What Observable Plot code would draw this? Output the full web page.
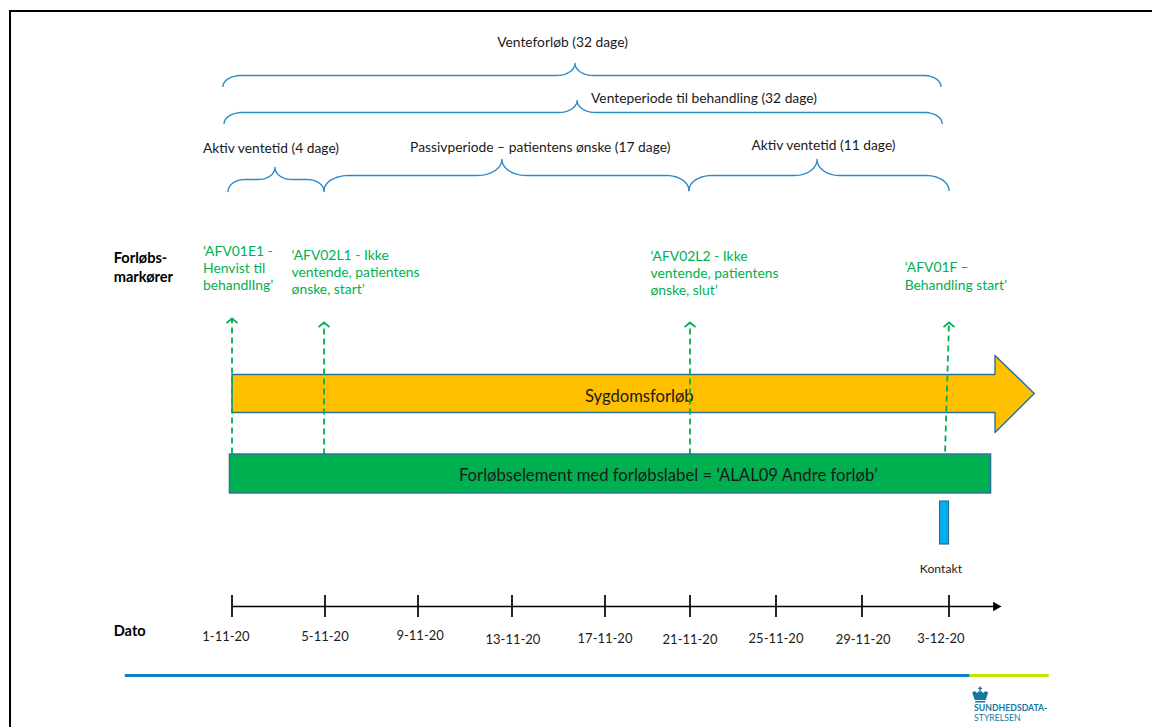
<!DOCTYPE html>
<html lang="da"><head><meta charset="utf-8">
<script src="https://cdn.jsdelivr.net/npm/d3@7"></script>
<script src="https://cdn.jsdelivr.net/npm/@observablehq/plot@0.6"></script>
<style>
html,body{margin:0;padding:0;background:#fff;overflow:hidden;width:1152px;height:727px}
#chart{position:absolute;left:0;top:0}
#frame{position:absolute;left:9px;top:10px;right:0;bottom:0;border-left:2px solid #000;border-top:2px solid #000;pointer-events:none}
</style></head><body>
<div id="chart"></div><div id="frame"></div>
<script>
// Time: days since 1-11-20
const tickDays = [0,4,8,12,16,20,24,28,32];
const tickLabels = ["1-11-20","5-11-20","9-11-20","13-11-20","17-11-20","21-11-20","25-11-20","29-11-20","3-12-20"];
const tickLabelDays = [-0.26,4,8.09,12.04,16,20,24,28.05,31.63];
const tickLabelY = [636,636,635,639,638,639,638,639,638];

const braceStart = [-0.39,-0.34,-0.17,3.96,19.95];
const braceMid   = [14.71,14.80,1.85,11.57,25.91];
const braceEnd   = [31.63,31.68,3.96,19.95,32];
const braceTip   = [63,100,167,159,159];
const braceLine  = [75,112,179,175,175];
const braceFoot  = [86,123,191,190,190];
const braceR     = [0.8,0.8,0.72,1.05,1.05];

const periodLabels = ["Venteforløb (32 dage)","Venteperiode til behandling (32 dage)","Aktiv ventetid (4 dage)","Passivperiode – patientens ønske (17 dage)","Aktiv ventetid (11 dage)"];
const periodLabelDays = [11.37,15.40,-1.25,7.66,22.86];
const periodLabelY = [42,98,148,147,145];

const markerLabels = ["‘AFV01E1 -\nHenvist til\nbehandlIng’","‘AFV02L1 - Ikke\nventende, patientens\nønske, start’","‘AFV02L2 - Ikke\nventende, patientens\nønske, slut’","‘AFV01F –\nBehandling start’"];
const markerLabelDays = [-1.25,2.56,18.14,29.96];
const markerLabelY = [267,271,272,275];
const markerTopDay = [0,3.96,20,32];
const markerBottomDay = [0,3.96,20,31.82];
const markerTopY = [318,322,322,322];
const markerBottomY = [453,454,454,451];

const courseDays = [0,34.11,34.11,35.91,34.11,34.11,0,0];
const courseY    = [374,374,355,393,432,412,412,374];
const elementDays = [-0.09,33.93];
const elementY = [454,493];
const contactDays = [31.59,32];
const contactY = [501,544];

const scaleDomain = [-9.98,...tickDays,41.33];
const scaleRange  = [0,231.5,324.5,417.5,511.5,604.5,689.5,775.5,861.5,948.5,1152];

const font = "Lato";
const ink = "#1a1a1a", blue = "#2a8bc9", green = "#00b050", edge = "#2a6f9f", teal = "#17789f";

function bracePoints(i){
  const x0=braceStart[i],xm=braceMid[i],x1=braceEnd[i],yt=braceTip[i],yl=braceLine[i],yf=braceFoot[i],r=braceR[i];
  const pts=[]; const n=14;
  const arc=(cx,cy,rx,ry,a0,a1)=>{for(let k=0;k<=n;k++){const a=a0+(a1-a0)*k/n;pts.push({x:cx+rx*Math.cos(a),y:cy+ry*Math.sin(a),b:i});}};
  const P=Math.PI;
  arc(x0+r,yf,r,yf-yl,P,1.5*P);
  arc(xm-r,yt,r,yl-yt,0.5*P,0);
  arc(xm+r,yt,r,yl-yt,P,0.5*P);
  arc(x1-r,yf,r,yf-yl,1.5*P,2*P);
  return pts;
}
const braces = braceStart.flatMap((_,i)=>bracePoints(i));
const chevron = {draw(c,s){const r=Math.sqrt(s/Math.PI);c.moveTo(-r,r*0.85);c.lineTo(0,0);c.lineTo(r,r*0.85);}};
const crown = {draw(c,s){const r=Math.sqrt(s/Math.PI);const u=r/8;
  const P=(a,b)=>[a*u,b*u];
  const poly=p=>{c.moveTo(...P(...p[0]));p.slice(1).forEach(q=>c.lineTo(...P(...q)));c.closePath();};
  poly([[-5,8],[5,8],[5,6.5],[-5,6.5]]);
  poly([[-5.5,5.5],[5.5,5.5],[8,-2],[5.5,-3.5],[3,-1.5],[1.2,-3.5],[0,-2.8],[-1.2,-3.5],[-3,-1.5],[-5.5,-3.5],[-8,-2]]);
  poly([[-0.7,-3.5],[0.7,-3.5],[0.7,-5.5],[2,-5.5],[2,-6.8],[0.7,-6.8],[0.7,-8],[-0.7,-8],[-0.7,-6.8],[-2,-6.8],[-2,-5.5],[-0.7,-5.5]]);
}};

const idx = a => a.map((_,i)=>i);
const chart = Plot.plot({
  width:1152,height:727,margin:0,
  style:{background:"transparent",fontFamily:font},
  x:{type:"linear",domain:scaleDomain,range:scaleRange,axis:null},
  y:{type:"linear",domain:[0,727],range:[0,727],axis:null},
  marks:[
    // braces
    Plot.line(braces,{x:"x",y:"y",z:"b",stroke:blue,strokeWidth:1.4,curve:"linear"}),
    Plot.text(idx(periodLabels),{x:i=>periodLabelDays[i],y:i=>periodLabelY[i],text:i=>periodLabels[i],textAnchor:"start",fontSize:13.8,fill:ink,fontFamily:font}),
    // course arrow
    Plot.line(idx(courseDays),{x:i=>courseDays[i],y:i=>courseY[i],fill:"#ffc000",stroke:edge,strokeWidth:1.4,curve:"linear"}),
    Plot.text(["Sygdomsforløb"],{x:[15.14],y:[396],text:d=>d,textAnchor:"start",fontSize:16.6,fill:ink,fontFamily:font}),
    // dashed markers
    Plot.link(idx(markerTopDay),{x1:i=>markerBottomDay[i],y1:i=>markerBottomY[i],x2:i=>markerTopDay[i],y2:i=>markerTopY[i],stroke:green,strokeWidth:1.8,strokeDasharray:"6 4"}),
    Plot.dot(idx(markerTopDay),{x:i=>markerTopDay[i],y:i=>markerTopY[i],symbol:chevron,r:5.5,fill:"none",stroke:green,strokeWidth:1.8}),
    Plot.text(idx(markerLabels),{x:i=>markerLabelDays[i],y:i=>markerLabelY[i],text:i=>markerLabels[i],textAnchor:"start",lineHeight:1.25,fontSize:13.9,fill:green,fontFamily:font}),
    // element
    Plot.rect([0],{x1:[elementDays[0]],x2:[elementDays[1]],y1:[elementY[0]],y2:[elementY[1]],fill:green,stroke:edge,strokeWidth:1.4}),
    Plot.text(["Forløbselement med forløbslabel = ‘ALAL09 Andre forløb’"],{x:[9.74],y:[475],text:d=>d,textAnchor:"start",fontSize:16.7,fill:ink,fontFamily:font}),
    // contact
    Plot.rect([0],{x1:[contactDays[0]],x2:[contactDays[1]],y1:[contactY[0]],y2:[contactY[1]],fill:"#00b0f0",stroke:edge,strokeWidth:1.2}),
    Plot.text(["Kontakt"],{x:[31.63],y:[569],text:d=>d,textAnchor:"middle",fontSize:12.2,fill:ink,fontFamily:font}),
    // date axis
    Plot.ruleY([606],{x1:0,x2:34.1,stroke:"#000",strokeWidth:1.7}),
    Plot.ruleX(tickDays,{y1:595,y2:617,stroke:"#000",strokeWidth:1.7}),
    Plot.dot([34.15],{x:d=>d,y:[606],symbol:"triangle",rotate:90,r:3.6,fill:"#000",stroke:"none"}),
    Plot.text(idx(tickLabels),{x:i=>tickLabelDays[i],y:i=>tickLabelY[i],text:i=>tickLabels[i],textAnchor:"middle",fontSize:13,fill:ink,fontFamily:font}),
    // left headers
    Plot.text(["Forløbs-\nmarkører"],{x:[-5.1],y:[266],text:d=>d,textAnchor:"start",lineHeight:1.3,fontSize:14.6,fontWeight:"bold",fill:"#000",fontFamily:font}),
    Plot.text(["Dato"],{x:[-5.1],y:[631],text:d=>d,textAnchor:"start",fontSize:14.6,fontWeight:"bold",fill:"#000",fontFamily:font}),
    // footer
    Plot.ruleY([675],{x1:-4.6,x2:32.97,stroke:"#0b81c2",strokeWidth:3}),
    Plot.ruleY([675],{x1:32.97,x2:36.6,stroke:"#c3e600",strokeWidth:3}),
    Plot.dot([33.43],{x:d=>d,y:[694],symbol:crown,r:8,fill:teal,stroke:"none"}),
    Plot.text(["SUNDHEDSDATA-"],{x:[33.15],y:[708],text:d=>d,textAnchor:"start",fontSize:8.7,fontWeight:"bold",fill:teal,fontFamily:font}),
    Plot.text(["STYRELSEN"],{x:[33.15],y:[717.5],text:d=>d,textAnchor:"start",fontSize:8.7,fill:teal,fontFamily:font})
  ]
});
document.getElementById("chart").append(chart);
</script></body></html>
